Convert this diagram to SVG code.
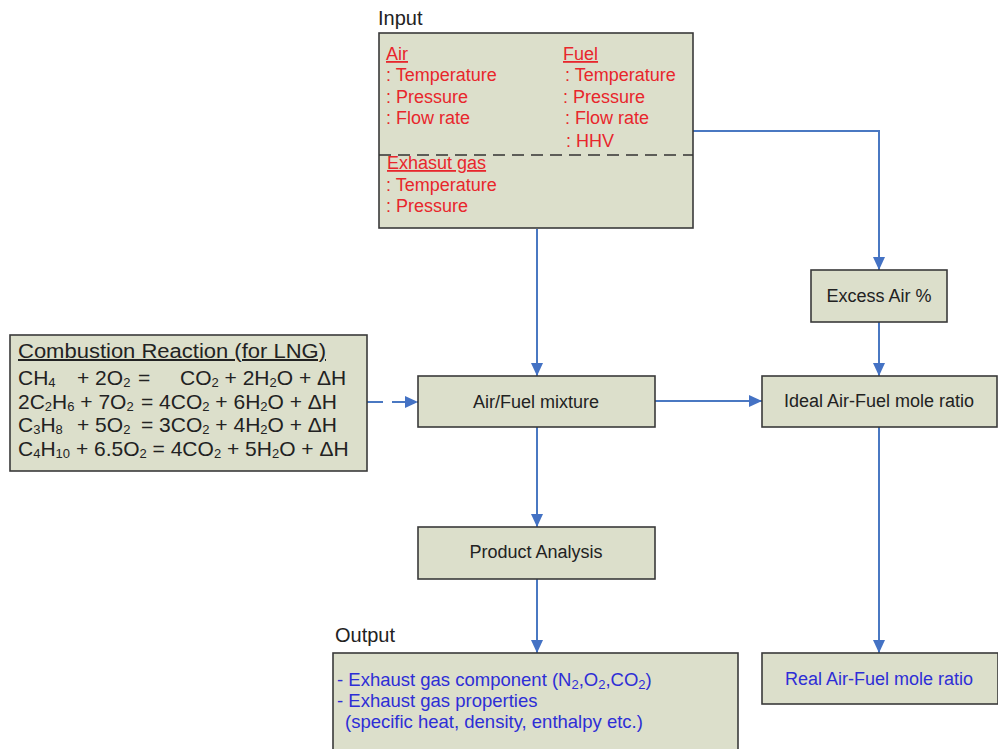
<svg xmlns="http://www.w3.org/2000/svg" width="998" height="749" viewBox="0 0 998 749">
<style>
.box{fill:#dcdfcb;stroke:#3a3a3a;stroke-width:1.6}
.t{font-family:"Liberation Sans",Arial,sans-serif;font-size:18px;fill:#222}
.lbl{font-family:"Liberation Sans",Arial,sans-serif;font-size:20px;fill:#222}
.c{text-anchor:middle}
.red{fill:#e8262c;font-family:"Liberation Sans",Arial,sans-serif;font-size:18px}
.u{text-decoration:underline}
.blue{fill:#2e2ed6;font-family:"Liberation Sans",Arial,sans-serif;font-size:18.5px}
.eq{font-family:"Liberation Sans",Arial,sans-serif;font-size:21px;fill:#222}
.s{font-size:13px;baseline-shift:-15%}
.s2{font-size:13px;baseline-shift:-20%}
.conn{fill:none;stroke:#4a78c2;stroke-width:2}
</style>
<defs>
<marker id="ah" markerUnits="userSpaceOnUse" markerWidth="14" markerHeight="12" refX="13" refY="6" orient="auto">
<path d="M0,0 L13,6 L0,12 Z" fill="#4472c4"/>
</marker>
</defs>
<g id="connectors">
<line class="conn" x1="537" y1="229" x2="537" y2="376" marker-end="url(#ah)"/>
<polyline class="conn" points="693,131 879,131 879,270" marker-end="url(#ah)"/>
<line class="conn" x1="879" y1="322" x2="879" y2="376" marker-end="url(#ah)"/>
<line class="conn" x1="367" y1="402" x2="418" y2="402" stroke-dasharray="16,9" marker-end="url(#ah)"/>
<line class="conn" x1="655" y1="401" x2="762" y2="401" marker-end="url(#ah)"/>
<line class="conn" x1="537" y1="427" x2="537" y2="527" marker-end="url(#ah)"/>
<line class="conn" x1="537" y1="579" x2="537" y2="653" marker-end="url(#ah)"/>
<line class="conn" x1="879" y1="427" x2="879" y2="653" marker-end="url(#ah)"/>
</g>
<g id="input">
<text class="lbl" x="378" y="25">Input</text>
<rect class="box" x="379" y="33" width="314" height="195"/>
<line x1="379" y1="155" x2="693" y2="155" stroke="#333" stroke-width="1.6" stroke-dasharray="12,7"/>
<text class="red u" x="386" y="60">Air</text>
<text class="red" x="386" y="81">: Temperature</text>
<text class="red" x="386" y="103">: Pressure</text>
<text class="red" x="386" y="124">: Flow rate</text>
<text class="red u" x="563" y="60">Fuel</text>
<text class="red" x="565" y="81">: Temperature</text>
<text class="red" x="563" y="103">: Pressure</text>
<text class="red" x="565" y="124">: Flow rate</text>
<text class="red" x="566" y="147">: HHV</text>
<text class="red u" x="387" y="169">Exhasut gas</text>
<text class="red" x="386" y="191">: Temperature</text>
<text class="red" x="386" y="212">: Pressure</text>
</g>
<g id="combustion">
<rect class="box" x="10" y="335" width="357" height="136"/>
<text class="eq u" x="18" y="358" textLength="308" lengthAdjust="spacingAndGlyphs" style="font-size:20px">Combustion Reaction (for LNG)</text>
<text class="eq" x="18" y="385">CH<tspan class="s">4</tspan></text>
<text class="eq" x="77" y="385">+ 2O<tspan class="s">2</tspan></text>
<text class="eq" x="138" y="385">=</text>
<text class="eq" x="180" y="385">CO<tspan class="s">2</tspan> + 2H<tspan class="s">2</tspan>O + ΔH</text>
<text class="eq" x="18" y="409">2C<tspan class="s">2</tspan>H<tspan class="s">6</tspan> + 7O<tspan class="s">2</tspan></text>
<text class="eq" x="141" y="409">= 4CO<tspan class="s">2</tspan> + 6H<tspan class="s">2</tspan>O + ΔH</text>
<text class="eq" x="18" y="432">C<tspan class="s">3</tspan>H<tspan class="s">8</tspan></text>
<text class="eq" x="77" y="432">+ 5O<tspan class="s">2</tspan></text>
<text class="eq" x="141" y="432">= 3CO<tspan class="s">2</tspan> + 4H<tspan class="s">2</tspan>O + ΔH</text>
<text class="eq" x="18" y="456">C<tspan class="s">4</tspan>H<tspan class="s">10</tspan> + 6.5O<tspan class="s">2</tspan> = 4CO<tspan class="s">2</tspan> + 5H<tspan class="s">2</tspan>O + ΔH</text>
</g>
<g id="mixture">
<rect class="box" x="418" y="376" width="237" height="51"/>
<text class="t c" x="536" y="408">Air/Fuel mixture</text>
</g>
<g id="excess">
<rect class="box" x="811" y="270" width="136" height="52"/>
<text class="t c" x="879" y="302">Excess Air %</text>
</g>
<g id="ideal">
<rect class="box" x="762" y="376" width="235" height="51"/>
<text class="t c" x="879" y="407">Ideal Air-Fuel mole ratio</text>
</g>
<g id="product">
<rect class="box" x="418" y="527" width="237" height="52"/>
<text class="t c" x="536" y="558">Product Analysis</text>
</g>
<g id="output">
<text class="lbl" x="335" y="642">Output</text>
<rect class="box" x="333" y="653" width="405" height="100"/>
<text class="blue" x="337" y="686">- Exhaust gas component (N<tspan class="s2">2</tspan>,O<tspan class="s2">2</tspan>,CO<tspan class="s2">2</tspan>)</text>
<text class="blue" x="337" y="707">- Exhaust gas properties</text>
<text class="blue" x="345" y="728">(specific heat, density, enthalpy etc.)</text>
</g>
<g id="real">
<rect class="box" x="762" y="653" width="236" height="51"/>
<text class="blue c" x="879" y="685" style="font-size:18px">Real Air-Fuel mole ratio</text>
</g>
</svg>
